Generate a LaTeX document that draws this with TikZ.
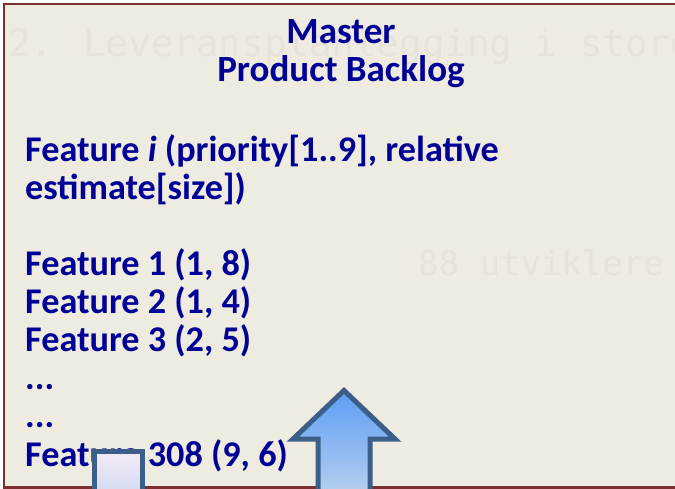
\documentclass[tikz,border=0pt]{standalone}
\usepackage{fontspec}
\setmainfont{Carlito}
\newfontfamily\wmfont{DejaVu Sans Mono}
\definecolor{pagebg}{RGB}{238,235,224}
\definecolor{framered}{RGB}{122,48,48}
\definecolor{inkblue}{RGB}{0,0,150}
\definecolor{wmgray}{RGB}{231,227,217}
\definecolor{edgeblue}{RGB}{60,95,138}
\definecolor{arrowtop}{RGB}{92,157,245}
\definecolor{arrowbot}{RGB}{188,210,238}
\definecolor{boxtop}{RGB}{245,234,248}
\definecolor{boxbot}{RGB}{204,217,237}
\tikzset{
  bodytext/.style={anchor=base west, inner sep=0pt, text=inkblue,
    font=\fontsize{36.2}{38}\selectfont\bfseries},
  titletext/.style={anchor=base, inner sep=0pt, text=inkblue,
    font=\fontsize{37}{39}\selectfont\bfseries},
  watermark/.style={anchor=base west, inner sep=0pt, text=wmgray,
    font=\fontsize{37.5}{40}\selectfont\wmfont},
  outlined/.style={draw=edgeblue, line width=5pt, line join=miter}
}
\begin{document}
\begin{tikzpicture}[x=1pt, y=-1pt]
  \useasboundingbox (0,0) rectangle (675,489);
  \begin{scope}
    \clip (0,0) rectangle (675,489);
    % slide panel
    \fill[white] (0,0) rectangle (675,489);
    \draw[fill=pagebg, draw=framered, line width=2.5pt] (4,4) rectangle (720,487.5);
    % faint background lettering
    \node[watermark] (wm1) at (8,57) {2. Leveransplanlegging i store};
    \node[watermark, font=\fontsize{34}{36}\selectfont\wmfont] (wm2) at (418,276) {88 utviklere i};
    % heading
    \node[titletext] (t1) at (341,44) {Master};
    \node[titletext] (t2) at (341,82) {Product Backlog};
    % backlog items
    \node[bodytext] (f0) at (25,162) {Feature \textit{i} (priority[1..9], relative};
    \node[bodytext] (f0b) at (25,200) {estimate[size])};
    \node[bodytext] (f1) at (25,276) {Feature 1 (1, 8)};
    \node[bodytext] (f2) at (25,313) {Feature 2 (1, 4)};
    \node[bodytext] (f3) at (25,351) {Feature 3 (2, 5)};
    \node[bodytext] (d1) at (25,389) {...};
    \node[bodytext] (d2) at (25,427) {...};
    \node[bodytext] (f308) at (25,466) {Feature 308 (9, 6)};
    % small box rising from below
    \draw[outlined, top color=boxtop, bottom color=boxbot]
      (94.5,500) -- (94.5,451.7) -- (142,451.7) -- (142,500) -- cycle;
    % big upward arrow
    \draw[outlined, top color=arrowtop, bottom color=arrowbot]
      (344,390.5) -- (395,439) -- (370,439) -- (370,500)
      -- (318,500) -- (318,439) -- (293,439) -- cycle;
  \end{scope}
\end{tikzpicture}
\end{document}
